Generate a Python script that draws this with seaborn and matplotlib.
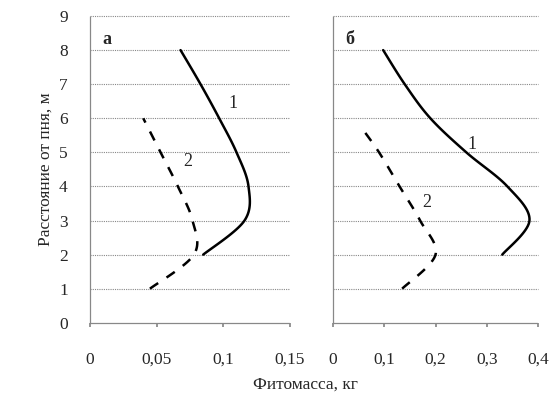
import matplotlib
matplotlib.use("Agg")
import matplotlib.pyplot as plt
import seaborn as sns
import pandas as pd
import numpy as np

sns.set_theme(style="white")
plt.rcParams['font.family'] = ['Liberation Serif', 'DejaVu Serif']

# Panel a
dist_a1 = [2, 3, 4, 5, 6, 7, 8]
mass_a1 = [0.085, 0.116, 0.119, 0.110, 0.097, 0.083, 0.068]
dist_a2 = [1, 2, 3, 4, 5, 6]
mass_a2 = [0.045, 0.078, 0.077, 0.066, 0.053, 0.040]
# Panel b
dist_b1 = [2, 3, 4, 5, 6, 7, 8]
mass_b1 = [0.33, 0.383, 0.34, 0.26, 0.19, 0.14, 0.098]
dist_b2 = [1, 2, 3, 4, 5, 5.7]
mass_b2 = [0.135, 0.20, 0.17, 0.13, 0.09, 0.057]

xticks_a = [0, 0.05, 0.1, 0.15]
xlabels_a = ["0", "0,05", "0,1", "0,15"]
xticks_b = [0, 0.1, 0.2, 0.3, 0.4]
xlabels_b = ["0", "0,1", "0,2", "0,3", "0,4"]
yticks = list(range(0, 10))

fig = plt.figure(figsize=(5.52, 4.01), dpi=100)
ax1 = fig.add_axes([0.163, 0.195, 0.362, 0.765])
ax2 = fig.add_axes([0.603, 0.195, 0.372, 0.765])


def smooth(x, y):
    # Catmull-Rom curve through the points
    y = np.asarray(y, float); x = np.asarray(x, float)
    order = np.argsort(y)
    ys, xs = y[order], x[order]
    out_x, out_y = [], []
    n = len(ys)
    for i in range(n - 1):
        p0 = xs[max(i - 1, 0)]; p1 = xs[i]; p2 = xs[i + 1]; p3 = xs[min(i + 2, n - 1)]
        q0 = ys[max(i - 1, 0)]; q1 = ys[i]; q2 = ys[i + 1]; q3 = ys[min(i + 2, n - 1)]
        for s in np.linspace(0, 1, 20, endpoint=(i == n - 2)):
            s2, s3 = s * s, s * s * s
            out_x.append(0.5 * (2 * p1 + (-p0 + p2) * s + (2 * p0 - 5 * p1 + 4 * p2 - p3) * s2 + (-p0 + 3 * p1 - 3 * p2 + p3) * s3))
            out_y.append(0.5 * (2 * q1 + (-q0 + q2) * s + (2 * q0 - 5 * q1 + 4 * q2 - q3) * s2 + (-q0 + 3 * q1 - 3 * q2 + q3) * s3))
    return pd.DataFrame({"mass": out_x, "dist": out_y})


def draw(ax, d1, m1, d2, m2, xlim, xticks, xlabels, letter, lab1, lab2, ylab):
    for y in yticks[1:]:
        ax.axhline(y, color="#888888", lw=0.8, ls=(0, (1, 1)), zorder=0, clip_on=False)
    c1 = smooth(m1, d1)
    c2 = smooth(m2, d2)
    sns.lineplot(data=c1, x="mass", y="dist", sort=False, ax=ax, color="black", lw=1.8, estimator=None)
    sns.lineplot(data=c2, x="mass", y="dist", sort=False, ax=ax, color="black", lw=1.8, estimator=None)
    ax.lines[-1].set_linestyle((0, (4, 4)))
    ax.set_xlim(xlim)
    ax.set_ylim(0, 9)
    ax.set_xticks(xticks)
    ax.set_xticklabels(xlabels, fontsize=12.5)
    ax.set_yticks(yticks)
    ax.set_xlabel("")
    if ylab:
        ax.set_yticklabels([str(v) for v in yticks], fontsize=12.5)
        ax.set_ylabel("Расстояние от пня, м", fontsize=12.5)
    else:
        ax.set_yticklabels([])
        ax.set_ylabel("")
        ax.tick_params(axis="y", length=0)
    for s in ["top", "right"]:
        ax.spines[s].set_visible(False)
    for s in ["left", "bottom"]:
        ax.spines[s].set_color("#888888")
        ax.spines[s].set_linestyle((0, (1, 1)))
        ax.spines[s].set_linewidth(0.9)
    ax.tick_params(axis="x", length=3, color="#888888", pad=18, bottom=True)
    ax.tick_params(axis="y", pad=10)
    ax.text(0.06, 0.95, letter, transform=ax.transAxes, fontsize=13, fontweight="bold", va="top", ha="left")
    ax.text(lab1[0], lab1[1], "1", fontsize=13)
    ax.text(lab2[0], lab2[1], "2", fontsize=13)
    ax.set_facecolor("white")


draw(ax1, dist_a1, mass_a1, dist_a2, mass_a2, (0, 0.15), xticks_a, xlabels_a, "а", (0.104, 6.3), (0.070, 4.6), True)
draw(ax2, dist_b1, mass_b1, dist_b2, mass_b2, (0, 0.4), xticks_b, xlabels_b, "б", (0.262, 5.1), (0.175, 3.4), False)

fig.text(0.553, 0.03, "Фитомасса, кг", ha="center", fontsize=12.5)

fig.savefig("out.png", dpi=100, facecolor="white")
